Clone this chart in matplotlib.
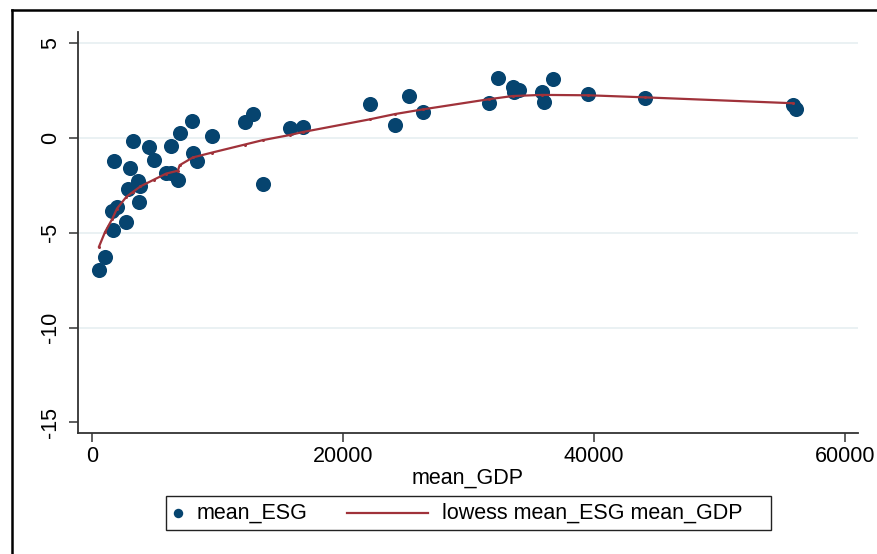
import matplotlib
matplotlib.use("Agg")
import matplotlib.pyplot as plt
from matplotlib.lines import Line2D
from matplotlib.patches import Rectangle

plt.rcParams['font.family'] = ['Liberation Sans', 'DejaVu Sans']

# ---- data ----
mean_GDP = [581, 1059, 1696, 2762, 1648, 2014, 3765, 2890, 3717, 3877,
            3081, 1775, 3288, 4561, 4935, 5946, 6344, 6869, 6344, 7005,
            7984, 9552, 8063, 8382, 12203, 12871, 13612, 15761, 16819, 22152,
            24174, 25257, 26427, 31626, 32398, 33536, 33672, 34070, 35876, 36003,
            36720, 39584, 44122, 55880, 56150]
mean_ESG = [-6.95, -6.30, -4.87, -4.44, -3.85, -3.64, -3.38, -2.66, -2.26, -2.54,
            -1.60, -1.22, -0.16, -0.49, -1.13, -1.84, -1.84, -2.22, -0.42, 0.25,
            0.92, 0.12, -0.76, -1.20, 0.86, 1.29, -2.40, 0.51, 0.57, 1.81,
            0.67, 2.24, 1.39, 1.84, 3.16, 2.71, 2.42, 2.54, 2.45, 1.89,
            3.11, 2.31, 2.10, 1.75, 1.53]

lowess_GDP = [581, 1059, 1648, 2014, 2762, 3288, 3877, 4935, 5946, 6869,
              7005, 8063, 9552, 12203, 13612, 15761, 16819, 22152, 24174, 26427,
              31626, 33536, 35876, 39584, 44122, 55880]
lowess_ESG = [-5.73, -4.96, -4.25, -3.72, -3.10, -2.84, -2.55, -2.20, -1.87, -1.72,
              -1.43, -1.02, -0.77, -0.34, -0.11, 0.16, 0.32, 0.99, 1.27, 1.52,
              2.05, 2.22, 2.28, 2.26, 2.15, 1.84]

x_ticks = [0, 20000, 40000, 60000]
y_ticks = [-15, -10, -5, 0, 5]
x_label = "mean_GDP"
legend_labels = ["mean_ESG", "lowess mean_ESG mean_GDP"]

# ---- styling ----
W, H = 878, 554
NAVY = "#06446f"
MAROON = "#a0323a"
GRID = "#e8f0f2"
FS = 15.5

fig = plt.figure(figsize=(W / 100, H / 100), dpi=100)
fig.patch.set_facecolor("white")

def fx(px):
    return px / W

def fy(py):
    return 1 - py / H

ax = fig.add_axes([fx(78), fy(433.3), fx(858) - fx(78), fy(32) - fy(433.3)])

ax.scatter(mean_GDP, mean_ESG, s=118, color=NAVY, zorder=3, linewidths=0)
ax.plot(lowess_GDP, lowess_ESG, color=MAROON, lw=1.6, zorder=4,
        marker='o', ms=2.2, mew=0)

ax.set_xlim(-1092, 61060)
ax.set_ylim(-15.58, 5.60)
ax.set_xticks(x_ticks)
ax.set_yticks(y_ticks)
ax.set_xticklabels([str(t) for t in x_ticks])
ax.set_yticklabels([str(t) for t in y_ticks])

for s in ["top", "right"]:
    ax.spines[s].set_visible(False)
for s in ["left", "bottom"]:
    ax.spines[s].set_color("#333333")
    ax.spines[s].set_linewidth(1.3)

ax.tick_params(axis="both", direction="out", length=6.3, width=1.1,
               color="#333333", labelsize=FS, labelcolor="black")
ax.tick_params(axis="x", pad=3)
ax.tick_params(axis="y", pad=6)
for lab in ax.get_yticklabels():
    lab.set_rotation(90)
    lab.set_va("center")

ax.yaxis.grid(True, color=GRID, lw=1.3)
ax.set_axisbelow(True)
for t, gl in zip(y_ticks, ax.yaxis.get_gridlines()):
    if t == -15:
        gl.set_visible(False)

ax.set_xlabel(x_label, fontsize=FS, labelpad=0)

# ---- legend drawn as a box below the plot ----
fig.add_artist(Rectangle((fx(166), fy(529.5)), fx(771) - fx(166), fy(496) - fy(529.5),
                         transform=fig.transFigure, facecolor="white",
                         edgecolor="#222222", lw=1.0))
fig.add_artist(Line2D([fx(178.5)], [fy(513)], transform=fig.transFigure,
                      marker='o', ms=6.8, color=NAVY, mew=0, ls='none'))
fig.text(fx(197), fy(513), legend_labels[0], fontsize=FS, va="center", ha="left")
fig.add_artist(Line2D([fx(347), fx(428)], [fy(513), fy(513)], transform=fig.transFigure,
                      color=MAROON, lw=1.6))
fig.text(fx(442), fy(513), legend_labels[1], fontsize=FS, va="center", ha="left")

# ---- outer graph frame (left and top edges visible) ----
fig.add_artist(Line2D([fx(12), fx(12)], [fy(10), 0], transform=fig.transFigure,
                      color="black", lw=1.8))
fig.add_artist(Line2D([fx(12), 1], [fy(10), fy(10)], transform=fig.transFigure,
                      color="black", lw=1.8))

fig.savefig("out.png", dpi=100, facecolor="white")
